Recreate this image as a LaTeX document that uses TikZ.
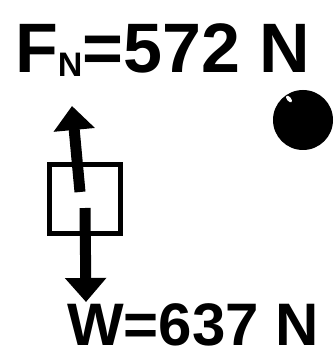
\documentclass[tikz,border=0pt]{standalone}
\usepackage{fontspec}
\setmainfont{Liberation Sans}
\usetikzlibrary{arrows.meta}
\tikzset{
  force/.style={line width=11pt,-{Triangle[width=40pt,length=24pt]}},
  label/.style={font=\fontsize{#1}{#1}\selectfont\bfseries,inner sep=0pt}
}
\begin{document}
\begin{tikzpicture}[x=1pt,y=-1pt]
  \useasboundingbox (0,0) rectangle (333,358);
  \draw
    (15,73) node[label=70,anchor=base west] (fn) {F\raisebox{-0.05em}{\fontsize{34}{34}\selectfont N}=572 N}
    (67,345) node[label=60,anchor=base west] (w) {W=637 N};
  \draw[line width=5pt] (49,164) rectangle (120,233);
  \node[inner sep=0pt] (box) at (84.5,198.5) {};
  \fill (303,120) circle (30) node (ball) {};
  \fill[white,rotate around={40:(289,99)}] (289,99) ellipse (2 and 4);
  \coordinate (up) at (80,192);
  \coordinate (down) at (85,208);
  \begin{scope}[force]
    \draw (up) to (72,106);
    \draw (down) to (86,302);
  \end{scope}
\end{tikzpicture}
\end{document}
